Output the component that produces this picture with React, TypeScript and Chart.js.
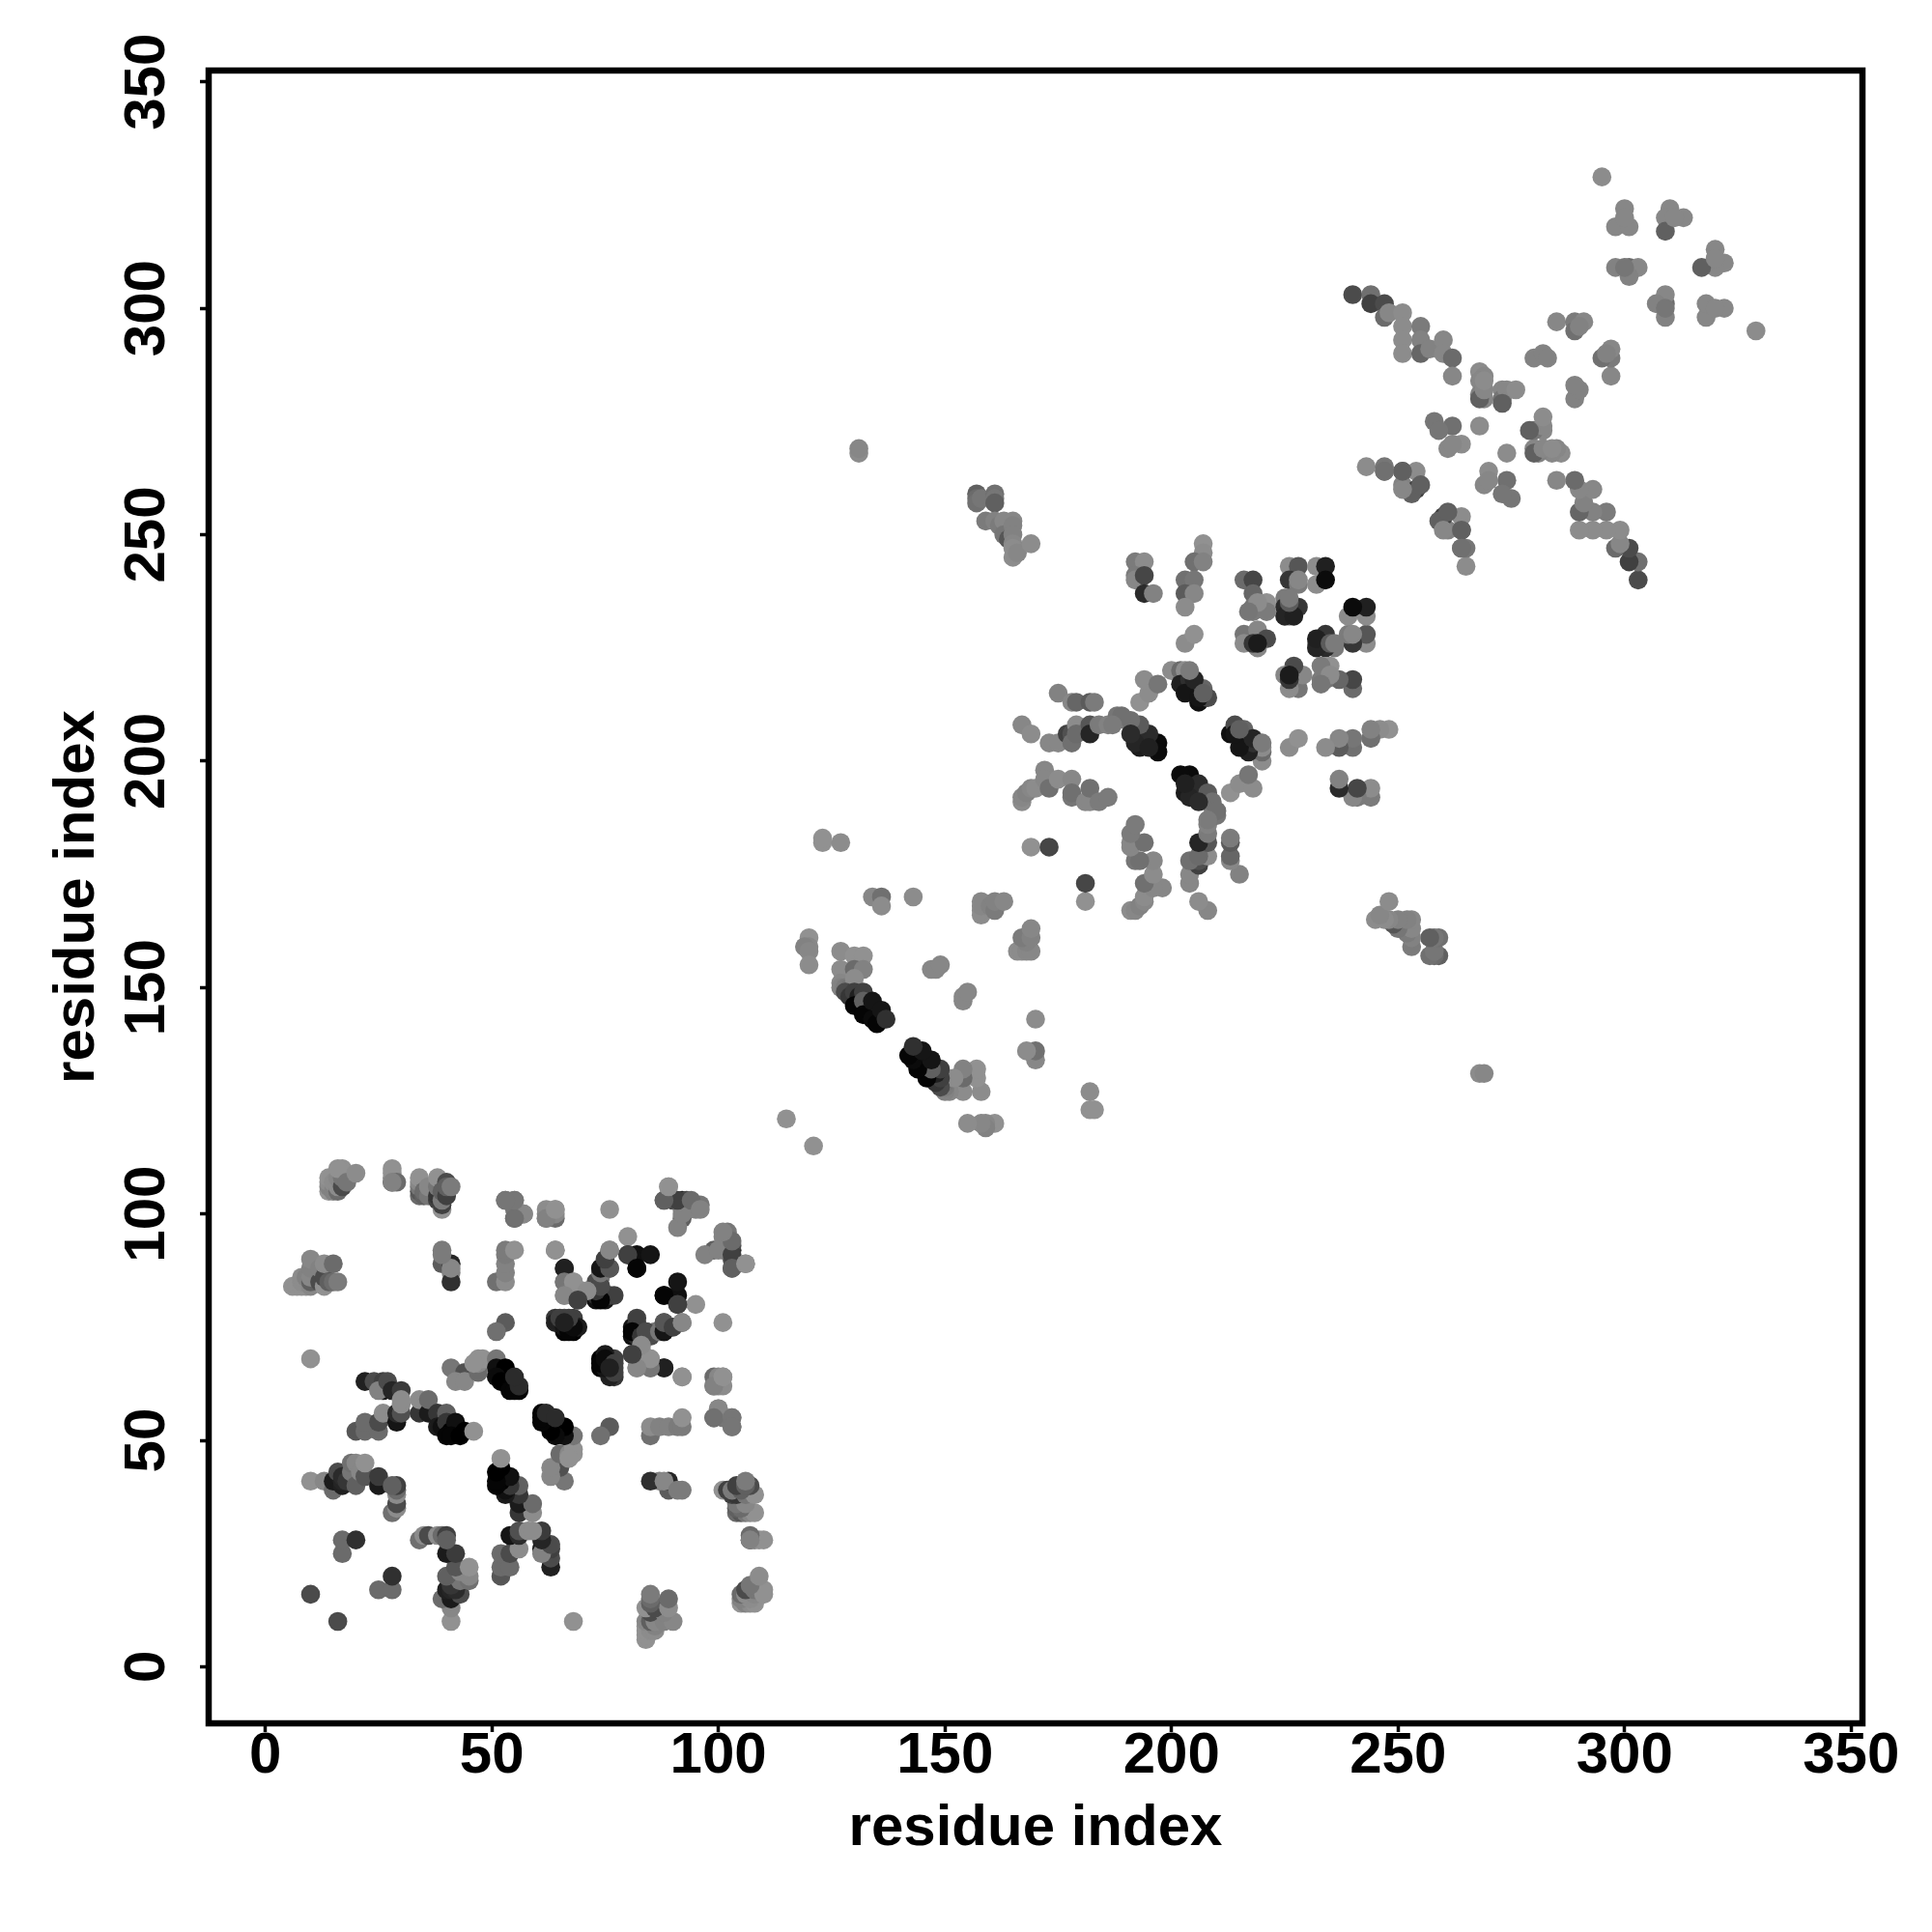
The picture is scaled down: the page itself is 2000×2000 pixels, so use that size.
import React, { useEffect, useRef } from "react";
import { Chart, registerables } from "chart.js";

Chart.register(...registerables);

// Contacts as [residue i, residue j, grey level]; the map is symmetric, so each is plotted at (i,j) and (j,i).
const firstDomainFar: number[][] = [
  [6,84,145],[7,84,145],[8,84,145],[9,84,145],[8,85,140],[8,86,140],[9,86,130],[10,84,135],[10,85,95],[10,86,135],[10,88,130],[10,90,135],[12,85,75],[12,88,130],[13,84,145],[13,86,75],[14,85,95],[13,89,140],[15,89,107],[15,85,107],[16,85,123],
  [14,105,148],[14,106,130],[14,107,140],[14,108,145],[15,105,130],[15,107,140],[16,105,107],[16,106,140],[16,108,135],[17,106,75],[17,108,118],[17,110,145],[16,110,145],[18,107,118],[20,109,140],
  [28,107,64],[28,108,135],[28,109,145],[28,110,145],[29,107,107],
  [34,104,107],[34,105,86],[34,106,118],[34,107,135],[34,108,145],[35,104,96],[35,105,107],[36,104,118],[36,106,135],[38,103,64],[38,104,54],[38,106,118],[38,108,145],[39,101,145],[39,102,64],[39,103,123],[39,105,96],[40,104,64],[40,107,75],[40,106,96],[41,106,123],
  [39,92,123],[39,89,91],[41,87,130],[41,85,48],[41,89,37],[41,88,135],[39,91,123],
  [51,85,112],[53,85,140],[53,87,130],[53,89,130],[53,91,123],[53,92,123],[55,92,145],
  [53,103,112],[55,103,118],[55,99,107],[55,101,118],[57,100,130],[53,76,91],[51,74,112],
  [62,99,123],[62,100,135],[62,101,140],[64,99,107],[64,100,135],[64,101,145],[76,101,145],[64,92,135],[10,68,145],
  [57,100,135],[55,99,112],[55,103,118],[53,103,118],
];

const firstDomainNear: number[][] = [
  [10,16,75],[10,41,145],[13,41,135],[15,39,107],[15,41,27],[16,43,75],[17,40,32],[17,41,37],[17,42,43],[18,41,54],[19,43,118],[19,45,112],[20,40,96],[20,45,135],[21,43,135],[22,42,86],[22,45,145],[25,40,27],[25,42,59],
  [28,34,112],[29,35,140],[29,36,75],[29,38,140],[29,39,107],[29,40,64],[28,40,96],[17,25,107],[17,28,107],[20,28,48],
  [20,52,86],[22,52,107],[22,54,107],[25,52,107],[25,54,75],[26,56,140],[29,54,21],[29,56,43],[30,56,80],[30,58,140],
  [22,63,32],[24,63,75],[26,61,27],[26,63,64],[25,61,130],[27,63,75],[28,61,37],[30,61,59],[30,59,140],
  [34,56,54],[34,59,140],[36,56,27],[36,59,107],[38,56,54],[40,56,96],[38,53,27],[39,53,16],[40,54,54],[41,52,0],[42,54,16],[44,52,0],[40,51,5],[41,51,5],[43,51,0],[46,52,145],
  [41,66,118],[44,65,80],[42,63,135],[44,63,135],[47,65,107],[47,67,135],[47,68,145],[48,68,145],[46,67,145],[51,68,118],
  [51,66,16],[53,66,0],[51,64,11],[52,63,0],[54,61,5],[56,61,5],[55,61,5],[56,62,43],[55,64,43],
];

const firstDomainCore: number[][] = [
  [64,77,54],[66,77,75],[66,74,5],[68,77,64],[68,74,0],[69,75,27],[64,76,32],[66,75,21],[67,74,5],[68,75,11],[65,77,64],[67,77,64],[66,76,32],
  [66,88,43],[66,85,107],[68,85,145],[66,82,130],[69,81,64],[70,83,140],[71,83,140],
  [76,92,135],[76,88,86],[74,88,37],[74,86,118],[73,85,75],[73,83,54],[73,81,16],[75,81,21],[76,82,64],[74,84,75],[77,82,64],[73,82,43],
  [80,95,145],[80,91,75],[82,91,16],[82,88,5],[88,82,5],[80,91,64],[85,91,21],
  [74,81,5],[73,83,54],[74,84,75],[74,87,118],[74,88,21],[76,88,86],[75,90,64],[76,92,135],
  [66,88,32],[66,85,118],[68,85,145],[66,82,135],[71,83,140],[69,81,64],
  [64,92,145],[62,99,130],[64,101,145],
  [88,103,118],[89,106,145],[90,103,75],[92,103,32],[93,103,75],[94,102,118],[96,102,118],[92,101,118],[92,99,96],[91,97,130],[95,101,130],[92,100,130],[91,103,64],[94,103,107],[88,103,96],[89,106,145],[96,101,130],
  [28,107,130],
];

const middleDomain: number[][] = [
  [115,121,145],[123,182,145],[123,183,145],[127,182,140],
  [120,161,145],[120,159,135],[119,159,130],[120,158,135],[120,155,140],
  [127,158,140],[130,157,145],[132,157,145],[127,154,140],[130,154,107],[132,154,130],[127,151,135],[127,150,130],[128,150,123],[129,150,118],[130,152,140],
  [128,149,75],[129,148,54],[130,149,64],[131,148,32],[130,146,5],[132,149,64],[132,147,96],[132,144,5],[134,147,21],[134,143,11],[135,142,5],[136,145,21],[137,143,48],
  [134,170,135],[136,170,112],[136,168,140],[143,170,140],[147,154,135],[148,154,135],[149,155,135],
  [158,166,140],[158,167,140],[158,168,135],[158,169,135],[160,168,130],[161,167,123],[161,169,130],[163,169,135],
  [169,181,145],[173,181,70],[131,268,140],[131,269,135],
];

const bridgeContacts: number[][] = [
  [157,259,96],[157,258,107],[157,257,112],[158,258,118],[161,259,112],[161,258,118],[161,257,96],[159,253,123],[161,253,130],[162,252,123],[163,253,135],[165,253,135],[163,250,118],[164,249,86],[165,252,130],[165,250,130],[165,248,135],[165,247,140],[165,245,140],[166,246,135],[169,248,140],
];

const thirdDomain: number[][] = [
  [167,191,140],[167,192,135],[168,193,130],[169,194,135],[170,194,140],[172,198,135],[172,196,135],[173,194,112],[175,196,140],[178,196,135],[178,192,118],[178,193,112],[181,191,135],[182,191,135],[182,194,112],[184,191,123],[186,192,123],
  [167,208,135],[169,206,140],[173,204,135],[175,204,135],[177,206,64],[178,206,80],[178,204,112],[179,208,140],[179,206,107],[182,208,86],[182,206,37],[184,208,123],[186,208,130],[188,210,118],[190,209,123],[192,208,107],[194,206,54],[197,204,11],
  [175,215,130],[178,213,135],[179,213,102],[182,213,91],[183,213,123],
  [193,213,145],[195,215,140],[194,218,140],[197,217,118],[203,226,140],[205,228,145],
  [192,244,123],[194,244,140],[192,241,123],[192,240,135],[194,241,70],[194,237,43],[196,237,130],
  [207,248,145],[207,246,140],[205,244,112],[207,244,130],[203,240,112],[205,240,118],[203,237,91],[205,237,135],[203,234,140],
  [200,220,140],[202,220,107],[203,220,140],[202,217,32],[204,218,48],[205,216,27],[203,215,21],[207,216,102],[206,213,16],[208,214,75],
  [197,202,11],[193,203,27],[195,206,43],[192,204,37],[193,208,91],[191,209,112],[189,210,112],[187,208,123],[191,206,43],[195,203,32],
  [206,214,21],[205,218,37],[207,215,96],[204,220,123],
  [216,240,107],[218,240,70],[218,237,102],[218,234,118],[218,233,123],[221,235,145],[221,233,123],[226,243,140],[228,243,86],[232,243,140],[234,243,32],[226,240,54],[228,239,123],[232,239,140],[234,240,11],[225,236,123],[225,234,43],[228,234,54],[226,233,27],[226,232,140],
  [216,228,118],[219,229,135],[221,227,75],[216,226,140],[219,225,135],[218,226,54],[219,226,27],[225,232,37],[227,232,32],[226,235,91],[226,236,123],[228,240,135],[219,235,140],[217,233,118],
];

const lastDomain: number[][] = [
  [240,303,75],[244,303,112],[244,301,64],[247,301,75],[247,298,107],[248,299,135],[251,299,140],[251,296,140],[251,293,140],[251,290,140],[255,296,123],[255,293,130],[255,290,102],[257,291,130],[260,293,135],[260,290,135],[262,289,107],[262,285,135],
  [243,265,140],[247,265,118],[247,264,112],[251,264,96],[254,264,140],[251,261,130],[254,260,64],[253,259,96],[255,261,96],[251,260,135],[251,264,96],[247,264,112],
  [258,275,118],[262,274,112],[259,273,118],[264,270,140],[261,269,135],[262,270,135],
  [268,286,140],[269,285,135],[268,284,135],[268,281,130],[269,280,135],[268,280,96],[268,274,140],[273,282,135],[273,280,118],[274,282,135],[276,282,140],[273,279,96],[269,282,135],[269,284,140],
  [285,297,135],[289,297,123],[291,297,135],[289,295,112],[290,296,130],[280,289,130],[282,290,130],[283,289,130],
  [295,329,140],[300,322,135],[298,318,135],[301,318,135],[300,320,135],[310,322,135],[309,320,135],[309,317,96],[313,320,135],[311,320,135],[298,309,130],[301,309,107],[303,309,135],[301,307,130],[300,309,118],
];

const tickValues = [0, 50, 100, 150, 200, 250, 300, 350];
const axisTitle = "residue index";

const contacts = [
  ...firstDomainFar,
  ...firstDomainNear,
  ...firstDomainCore,
  ...middleDomain,
  ...bridgeContacts,
  ...thirdDomain,
  ...lastDomain,
];

const scatterPoints = [
  ...contacts.map(([i, j]) => ({ x: i, y: j })),
  ...contacts.map(([i, j]) => ({ x: j, y: i })),
];
const scatterColours = [...contacts, ...contacts].map(([, , g]) => `rgb(${g},${g},${g})`);

const fontFamily = '"Liberation Sans", Arial, sans-serif';

const boxPlugin = {
  id: "plotBox",
  afterDatasetsDraw(chart: any) {
    const { ctx, chartArea: a } = chart;
    ctx.save();
    ctx.strokeStyle = "#000";
    ctx.lineWidth = 6.5;
    ctx.strokeRect(a.left, a.top, a.right - a.left, a.bottom - a.top);
    ctx.restore();
  },
};

function axis(side: "x" | "y"): any {
  const isX = side === "x";
  return {
    type: "linear",
    min: -12.5,
    max: 352.5,
    afterBuildTicks(scale: any) {
      scale.ticks = tickValues.map((value) => ({ value }));
    },
    afterFit(scale: any) {
      if (isX) scale.height = 216;
      else scale.width = 216;
    },
    border: { display: false },
    grid: {
      display: true,
      drawOnChartArea: false,
      drawTicks: true,
      tickLength: 9,
      tickWidth: 3.5,
      tickColor: "#000",
    },
    ticks: isX
      ? {
          autoSkip: false,
          maxRotation: 0,
          color: "#000",
          padding: -11,
          font: { family: fontFamily, size: 60, weight: "bold" },
        }
      : {
          autoSkip: false,
          minRotation: 90,
          maxRotation: 90,
          crossAlign: "center",
          color: "#000",
          padding: 3,
          font: { family: fontFamily, size: 60, weight: "bold" },
        },
    title: {
      display: true,
      text: axisTitle,
      color: "#000",
      padding: isX ? 71 : 44,
      font: { family: fontFamily, size: 60, weight: "bold" },
    },
  };
}

export default function App() {
  const ref = useRef<HTMLCanvasElement | null>(null);
  useEffect(() => {
    if (!ref.current) return;
    const chart = new Chart(ref.current, {
      type: "scatter",
      data: {
        datasets: [
          {
            data: scatterPoints,
            pointBackgroundColor: scatterColours,
            pointBorderWidth: 0,
            pointRadius: 9.8,
            pointHoverRadius: 9.8,
          },
        ],
      },
      options: {
        animation: false,
        responsive: false,
        devicePixelRatio: 1,
        layout: { padding: { top: 73, right: 72, left: 0, bottom: 0 } },
        plugins: { legend: { display: false }, tooltip: { enabled: false }, title: { display: false } },
        scales: { x: axis("x"), y: axis("y") },
      },
      plugins: [boxPlugin],
    } as any);
    return () => chart.destroy();
  }, []);
  return (
    <canvas
      ref={ref}
      width={2000}
      height={2000}
      style={{ position: "absolute", left: 0, top: 0, width: 2000, height: 2000, background: "#fff" }}
    />
  );
}
